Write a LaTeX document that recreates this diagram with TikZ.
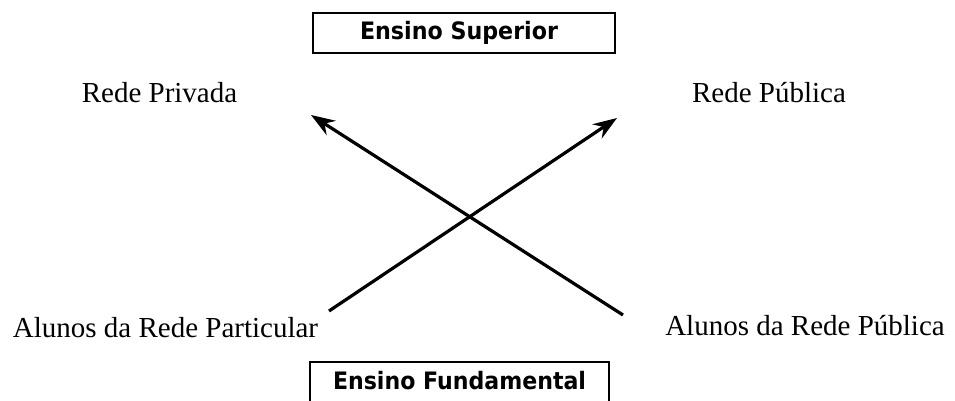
\documentclass[tikz,border=0pt]{standalone}
\usepackage{fontspec}
\usepackage{graphicx}
\setmainfont{Liberation Serif}
\newfontfamily\boxfont{DejaVu Sans}
\usetikzlibrary{arrows.meta}
\tikzset{
  lab/.style={anchor=base, inner sep=0pt, font=\fontsize{29}{34}\selectfont},
  boxtext/.style={anchor=base, inner sep=0pt, font=\boxfont\bfseries\fontsize{24}{29}\selectfont},
  framebox/.style={draw, line width=2pt},
  arr/.style={line width=3.2pt, -{Stealth[length=24pt, width=17pt, inset=8pt]}}
}
\begin{document}
\begin{tikzpicture}[x=1pt, y=-1pt]
\useasboundingbox (0,0) rectangle (955,400);
\clip (0,0) rectangle (955,400);
% boxes
\draw[framebox] (313,13) rectangle (615,53);
\node[boxtext] (sup) at (459,39) {\resizebox{198pt}{\height}{Ensino Superior}};
\draw[framebox] (310,362) rectangle (609,410);
\node[boxtext] (fund) at (459.5,389) {\resizebox{253pt}{\height}{Ensino Fundamental}};
% labels
\node[lab] (priv) at (159.5,102) {Rede Privada};
\node[lab] (pub) at (769,102) {Rede Pública};
\node[lab] (apart) at (165.5,337) {Alunos da Rede Particular};
\node[lab] (apub) at (805,335) {Alunos da Rede Pública};
% arrow ends
\coordinate (s1) at (623,315);
\coordinate (t1) at (311,115);
\coordinate (s2) at (329,311);
\coordinate (t2) at (617,118);
\draw[arr] (s1) -- (t1);
\draw[arr] (s2) -- (t2);
\end{tikzpicture}
\end{document}
